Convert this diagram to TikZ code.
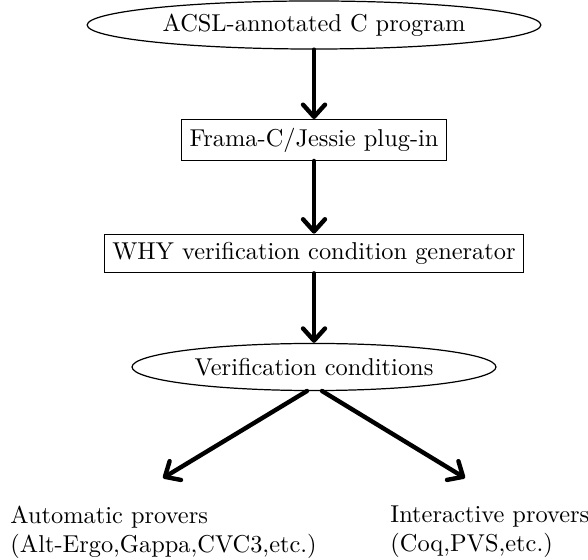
\documentclass[tikz,border=0pt]{standalone}
\usetikzlibrary{arrows.meta,shapes.geometric}
\begin{document}
\begin{tikzpicture}[x=0.41pt,y=-0.41pt,
  oval/.style={draw,ellipse,line width=0.5pt,inner sep=0pt},
  boxnode/.style={draw,rectangle,line width=0.5pt},
  flow/.style={line width=1.8pt,line cap=round,-{Straight Barb[length=5pt,width=9pt,line cap=round,line join=round]}},
  plain/.style={align=left,inner sep=0pt,anchor=west}]
\useasboundingbox (0,0) rectangle (588,560);
\node[oval,minimum width=186pt,minimum height=19.7pt] (e1) at (314,25) {ACSL-annotated C program};
\node[boxnode] (b1) at (314,140) {Frama-C/Jessie plug-in};
\node[boxnode] (b2) at (314,253.5) {WHY verification condition generator};
\node[oval,minimum width=149.2pt,minimum height=19.3pt] (e2) at (314,367) {Verification conditions};
\node[plain] (auto) at (10,532) {Automatic provers\\(Alt-Ergo,Gappa,CVC3,etc.)};
\node[plain] (inter) at (390,532) {Interactive provers\\(Coq,PVS,etc.)};
\coordinate (ls) at (307,391);
\coordinate (le) at (163,478);
\coordinate (rs) at (322,391);
\coordinate (re) at (465,478);
\draw[flow] (e1.south) -- (b1.north);
\draw[flow] (b1.south) -- (b2.north);
\draw[flow] (b2.south) -- (e2.north);
\draw[flow] (ls) -- (le);
\draw[flow] (rs) -- (re);
\end{tikzpicture}
\end{document}
